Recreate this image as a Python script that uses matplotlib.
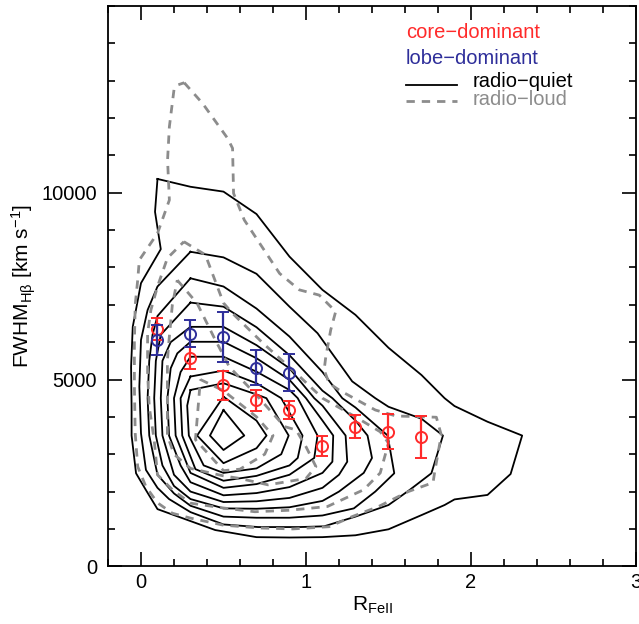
import matplotlib
matplotlib.use("Agg")
import matplotlib.pyplot as plt
from matplotlib.ticker import MultipleLocator, FixedLocator

plt.rcParams['font.family'] = ['Liberation Sans', 'DejaVu Sans']
plt.rcParams['mathtext.default'] = 'regular'

# binned medians: R_FeII bin centres and FWHM(Hbeta)
core_x = [0.1, 0.3, 0.5, 0.7, 0.9, 1.1, 1.3, 1.5, 1.7]
core_y = [6360, 5580, 4840, 4450, 4180, 3220, 3740, 3600, 3470]
core_err = [300, 300, 380, 280, 250, 260, 300, 470, 560]

lobe_x = [0.1, 0.3, 0.5, 0.7, 0.9]
lobe_y = [6060, 6220, 6150, 5320, 5180]
lobe_err = [400, 360, 670, 460, 500]

# radio-quiet density contours (outer to inner), traced vertices (R_FeII, FWHM)
rq_contours = [
    [(0.10, 10370), (0.30, 10160), (0.50, 10030), (0.70, 9430), (0.90, 8290), (1.10, 7400),
     (1.30, 6730), (1.50, 5850), (1.70, 5120), (1.84, 4500), (1.90, 4290), (2.10, 3870),
     (2.31, 3500), (2.24, 2470), (2.10, 1910), (1.90, 1790), (1.84, 1640), (1.70, 1370),
     (1.50, 990), (1.30, 830), (1.10, 780), (0.90, 770), (0.70, 780), (0.45, 970),
     (0.10, 1530), (0.03, 2040), (-0.03, 2490), (-0.057, 3500), (-0.057, 4270),
     (-0.06, 5340), (-0.05, 6410), (0.0, 7580), (0.12, 8490), (0.085, 9490), (0.10, 10370)],
    [(0.30, 8420), (0.50, 8270), (0.70, 7830), (0.90, 6950), (1.07, 6240), (1.28, 4950),
     (1.42, 4500), (1.50, 4270), (1.70, 3950), (1.83, 3500), (1.76, 2490), (1.63, 2050),
     (1.50, 1640), (1.30, 1330), (1.11, 1070), (0.96, 1050), (0.71, 1050), (0.50, 1120),
     (0.30, 1450), (0.17, 1800), (0.10, 2100), (0.03, 2580), (0.0, 3560), (-0.01, 4810),
     (0.0, 6060), (0.04, 6860), (0.10, 7490), (0.30, 8420)],
    [(0.30, 7710), (0.50, 7490), (0.70, 6900), (0.90, 6150), (1.10, 5200), (1.22, 4500),
     (1.30, 4250), (1.495, 3500), (1.535, 2490), (1.42, 2000), (1.29, 1550), (1.10, 1360),
     (0.90, 1300), (0.70, 1300), (0.50, 1330), (0.30, 1620), (0.20, 1950), (0.10, 2450),
     (0.05, 3500), (0.04, 4500), (0.05, 5500), (0.07, 6200), (0.10, 6700), (0.30, 7710)],
    [(0.30, 7060), (0.50, 6950), (0.70, 6400), (0.90, 5650), (1.10, 4700), (1.16, 4500),
     (1.30, 3900), (1.373, 3500), (1.40, 2900), (1.35, 2500), (1.20, 2000), (1.10, 1750),
     (0.90, 1580), (0.70, 1540), (0.50, 1550), (0.30, 1800), (0.20, 2150), (0.13, 2700),
     (0.09, 3500), (0.08, 4500), (0.09, 5500), (0.12, 6200), (0.30, 7060)],
    [(0.30, 6410), (0.50, 6410), (0.70, 5920), (0.90, 5300), (1.05, 4500), (1.10, 4300),
     (1.24, 3500), (1.25, 2800), (1.20, 2450), (1.10, 2100), (0.90, 1830), (0.70, 1740),
     (0.50, 1720), (0.30, 2000), (0.20, 2450), (0.13, 3500), (0.12, 4500), (0.13, 5500),
     (0.18, 6000), (0.30, 6410)],
    [(0.30, 6010), (0.50, 6010), (0.70, 5570), (0.90, 4990), (1.00, 4500), (1.10, 3900),
     (1.165, 3500), (1.16, 2800), (1.10, 2500), (0.90, 2120), (0.70, 1960), (0.50, 1900),
     (0.30, 2250), (0.24, 2700), (0.17, 3500), (0.16, 4500), (0.18, 5300), (0.22, 5700),
     (0.30, 6010)],
    [(0.30, 5610), (0.50, 5610), (0.70, 5210), (0.90, 4720), (0.95, 4500), (1.07, 3500),
     (1.05, 2900), (0.90, 2450), (0.70, 2200), (0.50, 2100), (0.30, 2500), (0.21, 3500),
     (0.20, 4500), (0.24, 5200), (0.30, 5610)],
    [(0.30, 5080), (0.50, 5240), (0.70, 4900), (0.85, 4500), (0.979, 3500), (0.95, 2900),
     (0.90, 2700), (0.70, 2420), (0.50, 2290), (0.33, 2600), (0.25, 3500), (0.24, 4500),
     (0.30, 5080)],
    [(0.30, 4720), (0.50, 4900), (0.70, 4600), (0.76, 4500), (0.895, 3500), (0.85, 3000),
     (0.70, 2620), (0.50, 2500), (0.38, 2700), (0.29, 3500), (0.28, 4300), (0.30, 4720)],
    [(0.50, 4540), (0.70, 3900), (0.761, 3500), (0.70, 3160), (0.50, 2760), (0.34, 3500),
     (0.50, 4540)],
    [(0.50, 4184), (0.626, 3500), (0.50, 3113), (0.418, 3500), (0.50, 4184)],
]

# radio-loud density contours (outer to inner)
rl_contours = [
    [(0.262, 12946), (0.373, 12394), (0.525, 11457), (0.555, 11190), (0.561, 9985),
     (0.626, 9270), (0.84, 7840), (0.96, 7400), (1.08, 7260), (1.18, 6820), (1.15, 6330),
     (1.12, 5610), (1.11, 5255), (1.14, 4900), (1.20, 4720), (1.29, 4500), (1.42, 4184),
     (1.545, 4024), (1.79, 3990), (1.82, 3515), (1.78, 2530), (1.77, 2240), (1.62, 2000),
     (1.44, 1600), (1.28, 1330), (1.14, 1060), (0.92, 1000), (0.72, 1025), (0.50, 1100),
     (0.30, 1290), (0.19, 1420), (0.10, 1700), (0.03, 2130), (-0.02, 2670), (-0.035, 3560),
     (-0.04, 4800), (-0.04, 6000), (-0.035, 7000), (-0.02, 7660), (-0.01, 8200),
     (0.10, 8914), (0.172, 9806), (0.161, 10877), (0.172, 11768), (0.20, 12760),
     (0.222, 12885), (0.262, 12946)],
    [(0.26, 8690), (0.39, 8340), (0.50, 7050), (0.555, 6770), (0.74, 5970), (0.94, 5170),
     (1.10, 4500), (1.30, 4000), (1.45, 3600), (1.50, 3300), (1.45, 2500), (1.35, 2050),
     (1.13, 1600), (0.90, 1500), (0.69, 1460), (0.50, 1560), (0.30, 1690), (0.19, 2050),
     (0.10, 2450), (0.08, 3380), (0.05, 4270), (0.04, 5170), (0.04, 6240), (0.06, 6860),
     (0.10, 7490), (0.16, 8250), (0.26, 8690)],
    [(0.22, 7660), (0.34, 7040), (0.44, 6150), (0.535, 5340), (0.69, 4630), (0.87, 3740),
     (0.94, 3650), (1.00, 3200), (1.06, 2670), (1.00, 2350), (0.77, 2180), (0.60, 2350),
     (0.50, 2420), (0.30, 2620), (0.20, 3000), (0.16, 3500), (0.16, 4500), (0.16, 5500),
     (0.17, 6060), (0.19, 7000), (0.22, 7660)],
    [(0.36, 5000), (0.50, 4700), (0.70, 4000), (0.80, 3500), (0.75, 3000), (0.60, 2600),
     (0.50, 2560), (0.33, 3390), (0.36, 5000)],
]

fig = plt.figure(figsize=(6.39, 6.24), dpi=100)
ax = fig.add_axes([0.169, 0.0925, 0.8263, 0.8979])

for c in rq_contours:
    xs = [p[0] for p in c]
    ys = [p[1] for p in c]
    ax.plot(xs, ys, color='black', lw=1.3, zorder=2)

for c in rl_contours:
    xs = [p[0] for p in c]
    ys = [p[1] for p in c]
    ax.plot(xs, ys, color='#8c8c8c', lw=2.0, ls=(0, (3, 2.5)), zorder=3)

ax.errorbar(core_x, core_y, yerr=core_err, fmt='o', mfc='none', mec='#ff2a2a',
            ecolor='#ff2a2a', ms=8, mew=1.4, elinewidth=1.6, capsize=4, capthick=1.6, zorder=5)
ax.errorbar(lobe_x, lobe_y, yerr=lobe_err, fmt='o', mfc='none', mec='#2e2e9a',
            ecolor='#2e2e9a', ms=8, mew=1.4, elinewidth=1.6, capsize=4, capthick=1.6, zorder=6)

ax.set_xlim(-0.2, 3.0)
ax.set_ylim(0, 15000)
ax.xaxis.set_major_locator(MultipleLocator(1))
ax.xaxis.set_minor_locator(MultipleLocator(0.2))
ax.yaxis.set_major_locator(FixedLocator([0, 5000, 10000]))
ax.yaxis.set_minor_locator(MultipleLocator(1000))
ax.tick_params(which='both', direction='in', top=True, right=True, labelsize=14.5, width=1.2)
ax.tick_params(which='major', length=10)
ax.tick_params(which='minor', length=5)
ax.tick_params(axis='x', which='major', pad=5)
ax.tick_params(axis='y', which='major', pad=8)
for s in ax.spines.values():
    s.set_linewidth(1.3)

ax.set_xlabel(r'R$_{FeII}$', fontsize=15, labelpad=2)
ax.set_ylabel(r'FWHM$_{H\beta}$ [km s$^{-1}$]', fontsize=15, labelpad=2)

# legend drawn as text, IDL style
tr = ax.transAxes
ax.text(0.564, 0.952, 'core\u2212dominant', color='#ff2a2a', fontsize=14.5, va='center', transform=tr)
ax.text(0.564, 0.907, 'lobe\u2212dominant', color='#2e2e9a', fontsize=14.5, va='center', transform=tr)
ax.plot([0.564, 0.661], [0.859, 0.859], color='black', lw=1.3, transform=tr)
ax.text(0.691, 0.865, 'radio\u2212quiet', color='black', fontsize=14.5, va='center', transform=tr)
ax.plot([0.564, 0.661], [0.831, 0.831], color='#8c8c8c', lw=2.0, ls=(0, (3, 2.5)), transform=tr)
ax.text(0.691, 0.833, 'radio\u2212loud', color='#8c8c8c', fontsize=14.5, va='center', transform=tr)

fig.savefig('out.png', dpi=100)
